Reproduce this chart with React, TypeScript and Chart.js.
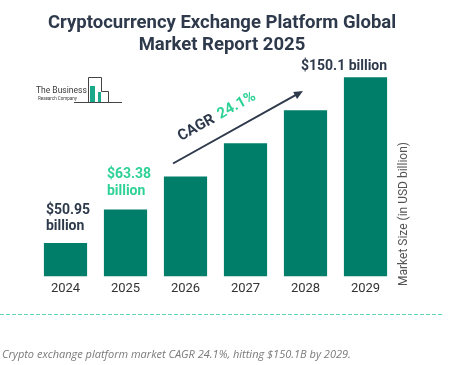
import React, { useEffect, useRef } from "react";
import { Chart, registerables } from "chart.js";

Chart.register(...registerables);

const years = ["2024", "2025", "2026", "2027", "2028", "2029"];
const marketSize = [50.95, 63.38, 78.66, 97.62, 121.1, 150.1];
const titleLines = ["Cryptocurrency Exchange Platform Global", "Market Report 2025"];
const cagrText = "24.1%";
const axisTitle = "Market Size (in USD billion)";
const caption = "Crypto exchange platform market CAGR 24.1%, hitting $150.1B by 2029.";

const BAR = "#007e69";
const DARK = "#2e3a4b";
const GREEN = "#2fd296";

const decor = {
  id: "decor",
  afterDatasetsDraw(chart: any) {
    const ctx = chart.ctx as CanvasRenderingContext2D;
    const meta = chart.getDatasetMeta(0);
    const bars = meta.data as any[];
    ctx.save();
    // Title
    ctx.fillStyle = DARK;
    ctx.textAlign = "center";
    ctx.textBaseline = "middle";
    ctx.font = "bold 18.5px Roboto";
    ctx.fillText(titleLines[0], 222, 23);
    ctx.fillText(titleLines[1], 222, 45);

    // Logo
    ctx.textAlign = "left";
    ctx.fillStyle = "#3a3a3a";
    ctx.font = "8.5px Roboto";
    ctx.fillText("The Business", 36, 91);
    ctx.font = "4.5px Roboto";
    ctx.fillText("Research Company", 38, 98.5);
    ctx.strokeStyle = "#444";
    ctx.lineWidth = 1;
    ctx.beginPath();
    ctx.moveTo(74, 102.5);
    ctx.lineTo(122, 102.5);
    ctx.moveTo(88.5, 102);
    ctx.lineTo(88.5, 77.5);
    ctx.lineTo(101.5, 77.5);
    ctx.lineTo(101.5, 91.5);
    ctx.lineTo(108.5, 91.5);
    ctx.lineTo(108.5, 102);
    ctx.stroke();
    ctx.fillStyle = "#19a88a";
    ctx.fillRect(90, 86, 5, 16);
    ctx.fillRect(98, 92, 3, 10);

    // Value labels
    const b0 = bars[0], b1 = bars[1], b5 = bars[bars.length - 1];
    const left = (b: any) => b.x - b.width / 2;
    const right = (b: any) => b.x + b.width / 2;
    ctx.font = "bold 14px Roboto";
    ctx.textBaseline = "middle";
    ctx.textAlign = "left";
    ctx.fillStyle = DARK;
    ctx.fillText("$" + marketSize[0].toFixed(2), left(b0) + 2, b0.y - 33);
    ctx.fillText("billion", left(b0) + 2, b0.y - 17);
    ctx.fillStyle = GREEN;
    ctx.fillText("$" + marketSize[1].toFixed(2), left(b1) + 3, b1.y - 35);
    ctx.fillText("billion", left(b1) + 3, b1.y - 18);
    ctx.fillStyle = DARK;
    ctx.textAlign = "right";
    ctx.fillText("$" + marketSize[5] + " billion", right(b5), b5.y - 11);

    // CAGR arrow
    const x1 = 173, y1 = 163.5, x2 = 303, y2 = 91;
    const ang = Math.atan2(y2 - y1, x2 - x1);
    ctx.strokeStyle = DARK;
    ctx.lineWidth = 2;
    ctx.beginPath();
    ctx.moveTo(x1, y1);
    ctx.lineTo(x2 - 5 * Math.cos(ang), y2 - 5 * Math.sin(ang));
    ctx.stroke();
    ctx.fillStyle = DARK;
    ctx.beginPath();
    ctx.moveTo(x2, y2);
    ctx.lineTo(x2 - 9 * Math.cos(ang) + 4 * Math.sin(ang), y2 - 9 * Math.sin(ang) - 4 * Math.cos(ang));
    ctx.lineTo(x2 - 9 * Math.cos(ang) - 4 * Math.sin(ang), y2 - 9 * Math.sin(ang) + 4 * Math.cos(ang));
    ctx.closePath();
    ctx.fill();

    ctx.save();
    ctx.translate(181, 141);
    ctx.rotate(ang);
    ctx.textAlign = "left";
    ctx.textBaseline = "alphabetic";
    ctx.font = "bold 15px Roboto";
    ctx.fillStyle = DARK;
    ctx.fillText("CAGR", 0, 0);
    const w = ctx.measureText("CAGR ").width;
    ctx.fillStyle = GREEN;
    ctx.fillText(cagrText, w + 2, 0);
    ctx.restore();

    // Axis title
    ctx.save();
    ctx.translate(404, 214);
    ctx.rotate(-Math.PI / 2);
    ctx.textAlign = "center";
    ctx.textBaseline = "middle";
    ctx.font = "12px Roboto";
    ctx.fillStyle = "#555";
    ctx.fillText(axisTitle, 0, 0);
    ctx.restore();

    // Dashed separator
    ctx.strokeStyle = "#5fd3b3";
    ctx.lineWidth = 1;
    ctx.setLineDash([4, 2]);
    ctx.beginPath();
    ctx.moveTo(0, 314.5);
    ctx.lineTo(442, 314.5);
    ctx.stroke();
    ctx.setLineDash([]);

    // Caption
    ctx.textAlign = "left";
    ctx.textBaseline = "middle";
    ctx.font = "italic 11px 'Open Sans'";
    ctx.fillStyle = "#7a7a7a";
    ctx.fillText(caption, 2, 355);
    ctx.restore();
  },
};

export default function App() {
  const ref = useRef<HTMLCanvasElement | null>(null);
  useEffect(() => {
    document.body.style.margin = "0";
    const chart = new Chart(ref.current as HTMLCanvasElement, {
      type: "bar",
      data: {
        labels: years,
        datasets: [
          {
            data: marketSize,
            backgroundColor: BAR,
            barPercentage: 0.72,
            categoryPercentage: 1,
          },
        ],
      },
      options: {
        animation: false,
        responsive: false,
        layout: { padding: { left: 35.5, right: 74.5, top: 60, bottom: 63 } },
        plugins: { legend: { display: false }, tooltip: { enabled: false } },
        scales: {
          x: {
            grid: { display: false, drawTicks: false },
            border: { display: false },
            ticks: { color: "#333", font: { family: "Roboto", size: 13 }, padding: 5 },
          },
          y: {
            type: "logarithmic",
            display: false,
            min: 41,
            max: 168,
          },
        },
      },
      plugins: [decor],
    });
    return () => chart.destroy();
  }, []);
  return (
    <div style={{ width: 470, height: 365 }}>
      <canvas ref={ref} width={470} height={365} />
    </div>
  );
}
